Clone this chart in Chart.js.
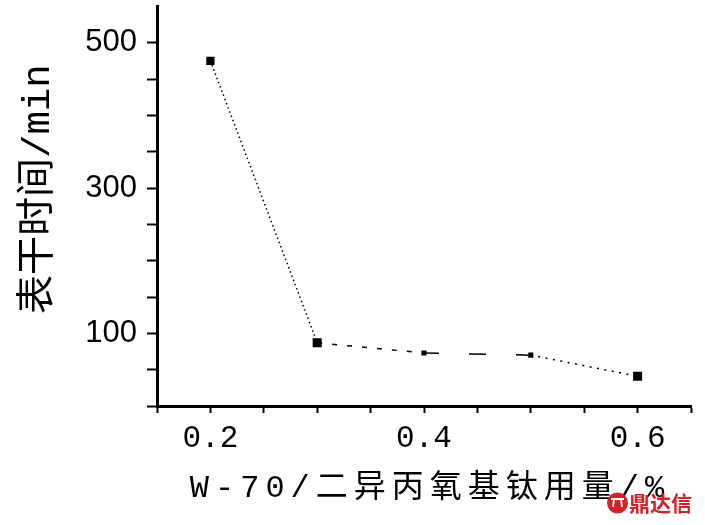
<!DOCTYPE html>
<html>
<head>
<meta charset="utf-8">
<script src="https://cdn.jsdelivr.net/npm/chart.js@4.4.1/dist/chart.umd.min.js"></script>
<style>
  html, body { margin: 0; padding: 0; background: #ffffff; }
  #wrap { width: 705px; height: 525px; position: relative; }
</style>
</head>
<body>
<div id="wrap"><canvas id="c" width="705" height="525"></canvas></div>
<script>
// ---- data ----
const xValues = [0.2, 0.3, 0.4, 0.5, 0.6];          // W-70/二异丙氧基钛用量 (%)
const dryTime = [475, 87, 73, 70, 41];               // 表干时间 (min)
const xTickLabels = [0.2, 0.4, 0.6];
const yTickLabels = [100, 300, 500];
const xTitle = 'W-70/二异丙氧基钛用量/%';
const yTitle = '表干时间/min';
const watermark = '鼎达信';

// ---- styles ----
const segmentDashes = [[1.5, 3], [5, 10], [15, 30, 17, 30, 20], [2, 5.5]];
const pointSizes = [5.8, 6.4, 3.6, 3.6, 6.4];

const points = xValues.map((x, i) => ({ x: x, y: dryTime[i] }));

const patchTitles = {
  id: 'patchTitles',
  beforeDraw(chart) {
    const xs = chart.scales.x, ys = chart.scales.y;
    if (!xs._patched) {
      const orig = xs.drawTitle.bind(xs);
      xs.drawTitle = function () {
        const ctx = this.ctx;
        ctx.save();
        ctx.letterSpacing = '6px';
        ctx.translate(6, 0);
        orig();
        ctx.restore();
      };
      xs._patched = true;
    }
    if (!ys._patched) {
      const orig = ys.drawTitle.bind(ys);
      ys.drawTitle = function () {
        const ctx = this.ctx;
        ctx.save();
        ctx.translate(0, -17);
        orig();
        ctx.restore();
      };
      ys._patched = true;
    }
  }
};

const watermarkPlugin = {
  id: 'watermark',
  afterDraw(chart) {
    const ctx = chart.ctx;
    ctx.save();
    ctx.fillStyle = '#d2232a';
    ctx.beginPath();
    ctx.arc(617.5, 503, 10.5, 0, Math.PI * 2);
    ctx.fill();
    ctx.strokeStyle = '#ffffff';
    ctx.lineWidth = 1.8;
    ctx.beginPath();
    ctx.moveTo(611, 499); ctx.lineTo(624, 499);
    ctx.moveTo(614, 499); ctx.lineTo(613, 507);
    ctx.moveTo(621, 499); ctx.lineTo(622, 507);
    ctx.stroke();
    ctx.font = 'bold 21px "Noto Sans CJK SC"';
    ctx.textBaseline = 'middle';
    ctx.textAlign = 'left';
    ctx.fillText(watermark, 629, 503);
    ctx.restore();
  }
};

function near(a, b) { return Math.abs(a - b) < 1e-6; }

new Chart(document.getElementById('c'), {
  type: 'scatter',
  data: {
    datasets: [{
      data: points,
      showLine: true,
      borderColor: '#000',
      borderWidth: 1.5,
      tension: 0,
      backgroundColor: '#000',
      pointBackgroundColor: '#000',
      pointBorderWidth: 0,
      pointStyle: 'rect',
      pointRadius: pointSizes,
      pointHoverRadius: pointSizes,
      segment: {
        borderDash: ctx => segmentDashes[ctx.p0DataIndex]
      }
    }]
  },
  plugins: [patchTitles, watermarkPlugin],
  options: {
    responsive: false,
    animation: false,
    devicePixelRatio: 1,
    layout: { padding: { top: 2, right: 14, bottom: 0, left: 0 } },
    plugins: {
      legend: { display: false },
      tooltip: { enabled: false }
    },
    scales: {
      x: {
        type: 'linear',
        min: 0.15,
        max: 0.65,
        afterFit: s => { s.height = 119; s.paddingLeft = 0; s.paddingRight = 0; },
        ticks: {
          stepSize: 0.05,
          padding: 7,
          color: '#000',
          maxRotation: 0,
          autoSkip: false,
          font: { family: '"Liberation Mono", monospace', size: 31 },
          callback: v => {
            const t = xTickLabels.find(l => near(l, v));
            return t === undefined ? '' : t.toFixed(1);
          }
        },
        grid: {
          drawOnChartArea: false,
          drawTicks: true,
          tickLength: 7,
          tickWidth: 2,
          tickColor: '#000'
        },
        border: { display: true, color: '#000', width: 3 },
        title: {
          display: true,
          text: xTitle,
          color: '#000',
          padding: { top: 0, bottom: 20 },
          font: { family: '"Liberation Mono", "Noto Sans CJK SC"', size: 32, lineHeight: 1 }
        }
      },
      y: {
        min: 0,
        max: 550,
        afterFit: s => { s.width = 157; s.paddingTop = 0; s.paddingBottom = 0; },
        ticks: {
          stepSize: 50,
          padding: 10,
          color: '#000',
          autoSkip: false,
          font: { family: '"Liberation Sans", Arial, sans-serif', size: 31 },
          callback: v => (yTickLabels.some(l => near(l, v)) ? String(v) : '')
        },
        grid: {
          drawOnChartArea: false,
          drawTicks: true,
          tickLength: 10,
          tickWidth: 2,
          tickColor: c => (c.tick && near(c.tick.value, 550) ? 'rgba(0,0,0,0)' : '#000')
        },
        border: { display: true, color: '#000', width: 3 },
        title: {
          display: true,
          text: yTitle,
          color: '#000',
          padding: { top: 19, bottom: 0 },
          font: { family: '"Liberation Mono", "Noto Sans CJK SC"', size: 39, lineHeight: 1 }
        }
      }
    }
  }
});
</script>
</body>
</html>
